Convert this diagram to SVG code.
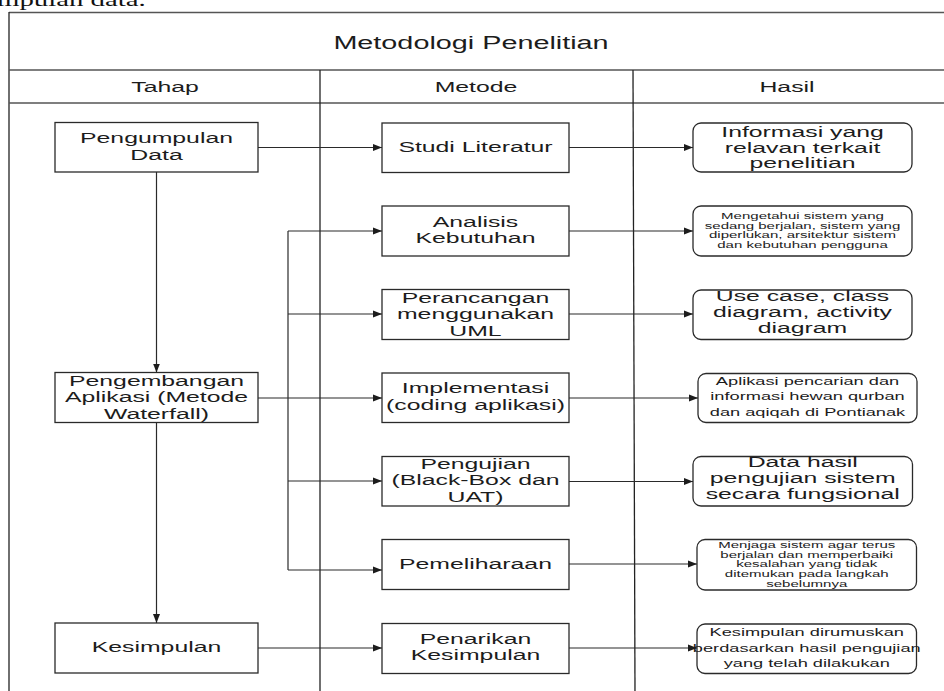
<svg xmlns="http://www.w3.org/2000/svg" width="944" height="691" viewBox="0 0 944 691">
<defs>
<style>
.t{font-family:"Liberation Sans",Arial,sans-serif;fill:#1c1c1c;text-anchor:middle}
.lbl{font-size:15.5px}
.hdr{font-size:15.5px}
.ttl{font-size:18px}
.sm{font-size:9.4px}
.md{font-size:11.4px}
.box{fill:#fff;stroke:#2a2a2a;stroke-width:1.3}
.frame{stroke:#555;stroke-width:1.6;fill:none}
.div{stroke:#222;stroke-width:1.3;fill:none}
.c{stroke:#2a2a2a;stroke-width:1.2;fill:none}
.a{marker-end:url(#ah)}
</style>
<marker id="ah" markerUnits="userSpaceOnUse" markerWidth="10" markerHeight="8" refX="9" refY="4" orient="auto">
<path d="M0,0.5 L9,4 L0,7.5 Z" fill="#1c1c1c"/>
</marker>
</defs>
<rect width="944" height="691" fill="#fff"/>
<text font-family="Liberation Serif,serif" font-size="18" fill="#111" transform="translate(-3,0) scale(1.6,1)" x="0" y="6">mpulan data.</text>

<g id="frame">
<line class="frame" x1="9" y1="12.5" x2="944" y2="12.5"/>
<line class="div" x1="9" y1="12" x2="9" y2="691"/>
<line class="frame" x1="9" y1="70" x2="944" y2="70"/>
<line class="frame" x1="9" y1="103" x2="944" y2="103"/>
<line class="div" x1="320" y1="70" x2="320" y2="691"/>
<line class="div" x1="633" y1="70" x2="635" y2="691"/>
<text class="t ttl" transform="translate(471,0) scale(1.6,1)" x="0" y="49">Metodologi Penelitian</text>
<text class="t hdr" transform="translate(165,0) scale(1.6,1)" x="0" y="92">Tahap</text>
<text class="t hdr" transform="translate(476,0) scale(1.6,1)" x="0" y="92">Metode</text>
<text class="t hdr" transform="translate(787,0) scale(1.6,1)" x="0" y="92">Hasil</text>
</g>

<g id="connectors">
<line class="c a" x1="258" y1="147.5" x2="382" y2="147.5"/>
<line class="c a" x1="156.5" y1="172" x2="156.5" y2="372.5"/>
<line class="c a" x1="156.5" y1="422.5" x2="156.5" y2="623"/>
<line class="c a" x1="258" y1="398" x2="382" y2="398"/>
<line class="c a" x1="258" y1="648" x2="382" y2="648"/>
<path class="c" d="M288,231 V570"/>
<line class="c a" x1="288" y1="231" x2="382" y2="231"/>
<line class="c a" x1="288" y1="314" x2="382" y2="314"/>
<line class="c a" x1="288" y1="481" x2="382" y2="481"/>
<line class="c a" x1="288" y1="570" x2="382" y2="570"/>
<line class="c a" x1="569" y1="147.5" x2="693" y2="147.5"/>
<line class="c a" x1="569" y1="231" x2="693" y2="231"/>
<line class="c a" x1="569" y1="314" x2="693" y2="314"/>
<line class="c a" x1="569" y1="398" x2="698" y2="398"/>
<line class="c a" x1="569" y1="481.5" x2="693" y2="481.5"/>
<line class="c a" x1="569" y1="564" x2="697" y2="564"/>
<line class="c a" x1="569" y1="648" x2="697" y2="648"/>
</g>

<g id="tahap-pengumpulan">
<rect class="box" x="55" y="122.5" width="203" height="49.5"/>
<text class="t lbl" transform="translate(156.5,0) scale(1.6,1)"><tspan x="0" y="143">Pengumpulan</tspan><tspan x="0" y="160">Data</tspan></text>
</g>
<g id="tahap-pengembangan">
<rect class="box" x="55" y="372.5" width="203" height="50"/>
<text class="t lbl" transform="translate(156.5,0) scale(1.6,1)"><tspan x="0" y="386">Pengembangan</tspan><tspan x="0" y="402.5">Aplikasi (Metode</tspan><tspan x="0" y="419">Waterfall)</tspan></text>
</g>
<g id="tahap-kesimpulan">
<rect class="box" x="55" y="623" width="203" height="50"/>
<text class="t lbl" transform="translate(156.5,0) scale(1.6,1)" x="0" y="652">Kesimpulan</text>
</g>

<g id="metode-studi">
<rect class="box" x="382" y="123" width="187" height="49.5"/>
<text class="t lbl" transform="translate(475.5,0) scale(1.6,1)" x="0" y="152.5">Studi Literatur</text>
</g>
<g id="metode-analisis">
<rect class="box" x="382" y="206" width="187" height="50"/>
<text class="t lbl" transform="translate(475.5,0) scale(1.6,1)"><tspan x="0" y="227">Analisis</tspan><tspan x="0" y="243.5">Kebutuhan</tspan></text>
</g>
<g id="metode-perancangan">
<rect class="box" x="382" y="289.5" width="187" height="50"/>
<text class="t lbl" transform="translate(475.5,0) scale(1.6,1)"><tspan x="0" y="303">Perancangan</tspan><tspan x="0" y="319.5">menggunakan</tspan><tspan x="0" y="336">UML</tspan></text>
</g>
<g id="metode-implementasi">
<rect class="box" x="382" y="373" width="187" height="49.5"/>
<text class="t lbl" transform="translate(475.5,0) scale(1.6,1)"><tspan x="0" y="393.5">Implementasi</tspan><tspan x="0" y="410">(coding aplikasi)</tspan></text>
</g>
<g id="metode-pengujian">
<rect class="box" x="382" y="456.5" width="187" height="49.5"/>
<text class="t lbl" transform="translate(475.5,0) scale(1.6,1)"><tspan x="0" y="469">Pengujian</tspan><tspan x="0" y="485.5">(Black-Box dan</tspan><tspan x="0" y="502">UAT)</tspan></text>
</g>
<g id="metode-pemeliharaan">
<rect class="box" x="382" y="539.5" width="187" height="50"/>
<text class="t lbl" transform="translate(475.5,0) scale(1.6,1)" x="0" y="569">Pemeliharaan</text>
</g>
<g id="metode-penarikan">
<rect class="box" x="382" y="623.5" width="187" height="50"/>
<text class="t lbl" transform="translate(475.5,0) scale(1.6,1)"><tspan x="0" y="644">Penarikan</tspan><tspan x="0" y="660.5">Kesimpulan</tspan></text>
</g>

<g id="hasil-informasi">
<rect class="box" x="693" y="123" width="219" height="49" rx="8"/>
<text class="t lbl" transform="translate(802.5,0) scale(1.6,1)"><tspan x="0" y="137">Informasi yang</tspan><tspan x="0" y="153">relavan terkait</tspan><tspan x="0" y="168.5">penelitian</tspan></text>
</g>
<g id="hasil-mengetahui">
<rect class="box" x="693" y="206" width="219" height="50" rx="8"/>
<text class="t sm" transform="translate(802.5,0) scale(1.6,1)"><tspan x="0" y="219">Mengetahui sistem yang</tspan><tspan x="0" y="228.7">sedang berjalan, sistem yang</tspan><tspan x="0" y="238.4">diperlukan, arsitektur sistem</tspan><tspan x="0" y="248.1">dan kebutuhan pengguna</tspan></text>
</g>
<g id="hasil-usecase">
<rect class="box" x="693" y="290" width="219" height="49.5" rx="8"/>
<text class="t lbl" transform="translate(802.5,0) scale(1.6,1)"><tspan x="0" y="301">Use case, class</tspan><tspan x="0" y="317">diagram, activity</tspan><tspan x="0" y="333">diagram</tspan></text>
</g>
<g id="hasil-aplikasi">
<rect class="box" x="698" y="373.5" width="219" height="49" rx="8"/>
<text class="t md" transform="translate(807.5,0) scale(1.6,1)"><tspan x="0" y="385">Aplikasi pencarian dan</tspan><tspan x="0" y="400.5">informasi hewan qurban</tspan><tspan x="0" y="416">dan aqiqah di Pontianak</tspan></text>
</g>
<g id="hasil-data">
<rect class="box" x="693" y="456.5" width="219.5" height="49.5" rx="8"/>
<text class="t lbl" transform="translate(802.75,0) scale(1.6,1)"><tspan x="0" y="467.5">Data hasil</tspan><tspan x="0" y="483.5">pengujian sistem</tspan><tspan x="0" y="499.5">secara fungsional</tspan></text>
</g>
<g id="hasil-menjaga">
<rect class="box" x="697" y="539.5" width="219.5" height="50.5" rx="8"/>
<text class="t sm" transform="translate(806.75,0) scale(1.6,1)"><tspan x="0" y="548">Menjaga sistem agar terus</tspan><tspan x="0" y="557.7">berjalan dan memperbaiki</tspan><tspan x="0" y="567.4">kesalahan yang tidak</tspan><tspan x="0" y="577.1">ditemukan pada langkah</tspan><tspan x="0" y="586.8">sebelumnya</tspan></text>
</g>
<g id="hasil-kesimpulan">
<rect class="box" x="697" y="624" width="219.5" height="49.5" rx="8"/>
<text class="t md" transform="translate(806.75,0) scale(1.6,1)"><tspan x="0" y="636.5">Kesimpulan dirumuskan</tspan><tspan x="0" y="652">berdasarkan hasil pengujian</tspan><tspan x="0" y="667.5">yang telah dilakukan</tspan></text>
</g>
</svg>
